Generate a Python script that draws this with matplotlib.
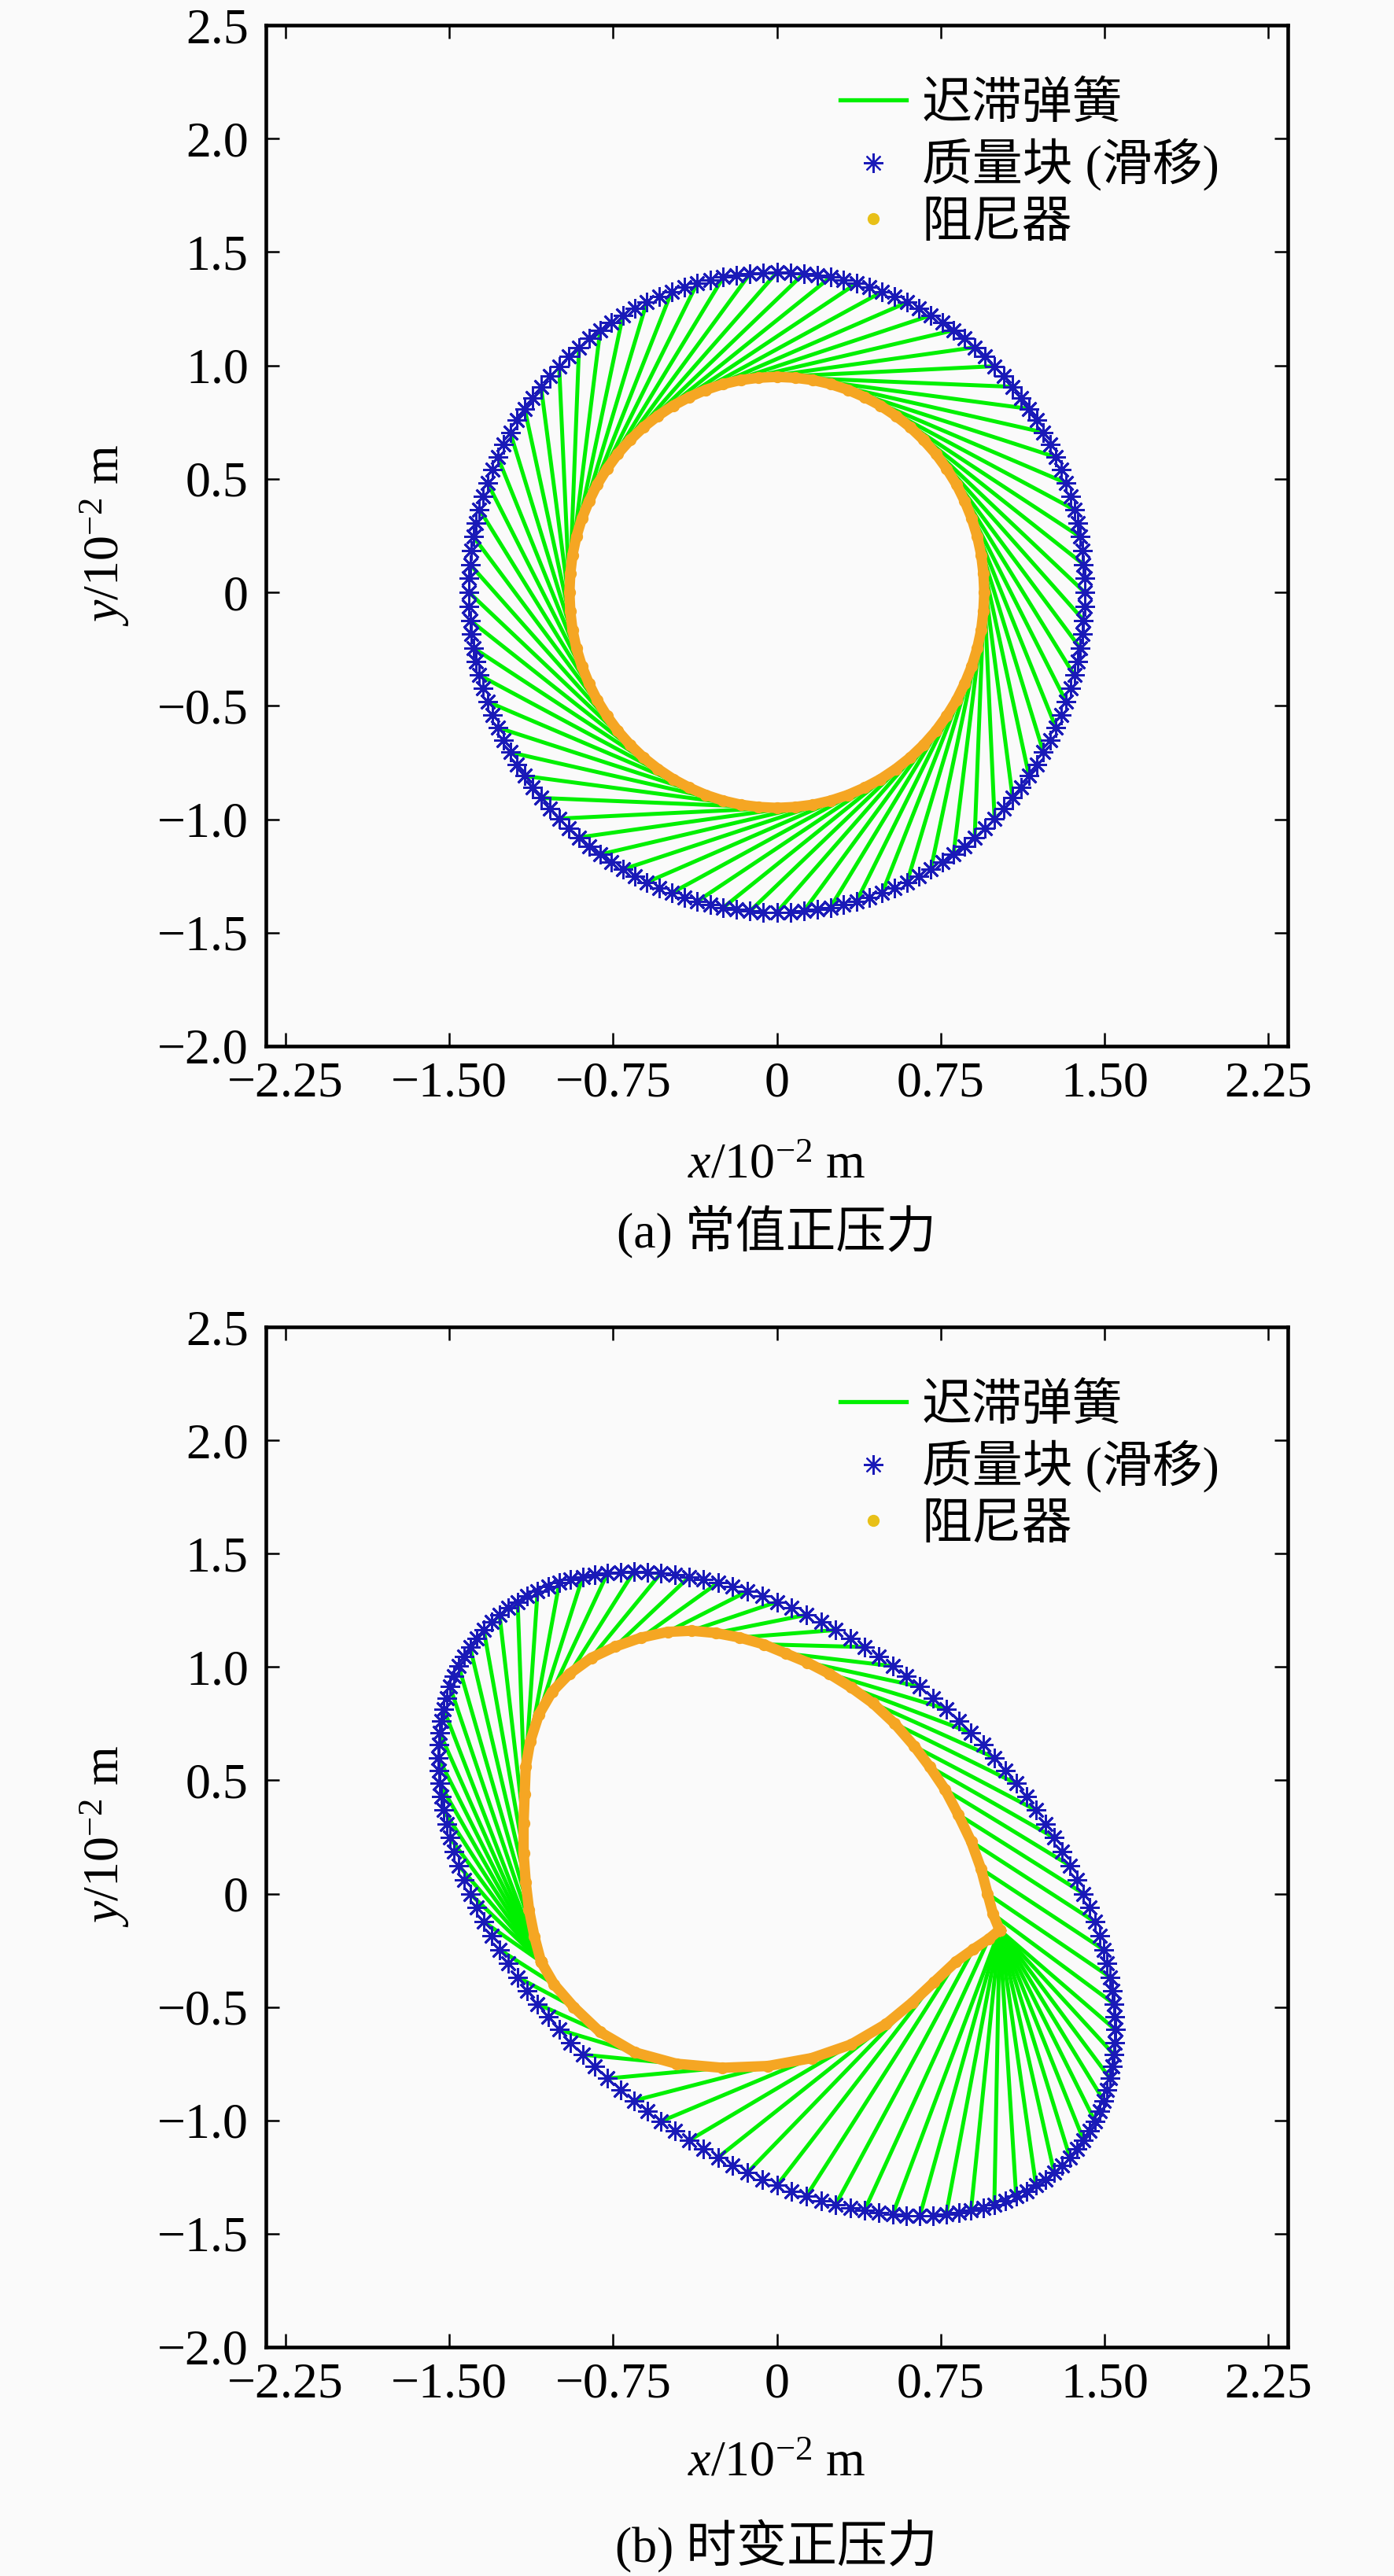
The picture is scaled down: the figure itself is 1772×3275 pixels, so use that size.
import numpy as np
import matplotlib
matplotlib.use('Agg')
import matplotlib.pyplot as plt
from matplotlib.lines import Line2D

plt.rcParams['font.family'] = ['Liberation Serif', 'Noto Sans CJK SC', 'DejaVu Sans']
plt.rcParams['mathtext.fontset'] = 'custom'
plt.rcParams['mathtext.rm'] = 'Liberation Serif'
plt.rcParams['mathtext.it'] = 'Liberation Serif:italic'
plt.rcParams['axes.unicode_minus'] = True

# ---------------- data ----------------
x_ticks = [-2.25, -1.5, -0.75, 0, 0.75, 1.5, 2.25]
x_tick_labels = ['\u22122.25', '\u22121.50', '\u22120.75', '0', '0.75', '1.50', '2.25']
y_ticks = [-2.0, -1.5, -1.0, -0.5, 0, 0.5, 1.0, 1.5, 2.0, 2.5]
y_tick_labels = ['\u22122.0', '\u22121.5', '\u22121.0', '\u22120.5', '0', '0.5', '1.0', '1.5', '2.0', '2.5']
legend_labels = ['迟滞弹簧', '质量块 (滑移)', '阻尼器']
captions = ['(a) 常值正压力', '(b) 时变正压力']

# (a) constant normal force: mass (slider) positions, 10^-2 m
mass_a_x = [1.410, 1.409, 1.405, 1.398, 1.389, 1.377, 1.362, 1.345, 1.325, 1.303, 1.278, 1.251, 1.221, 1.189, 1.155, 1.119, 1.080, 1.040, 0.997, 0.953, 0.906, 0.858, 0.809, 0.758, 0.705, 0.651, 0.596, 0.540, 0.482, 0.424, 0.365, 0.305, 0.245, 0.184, 0.123, 0.062, 0.000,
            -0.062, -0.123, -0.184, -0.245, -0.305, -0.365, -0.424, -0.482, -0.540, -0.596, -0.651, -0.705, -0.758, -0.809, -0.858, -0.906, -0.953, -0.997, -1.040, -1.080, -1.119, -1.155, -1.189, -1.221, -1.251, -1.278, -1.303, -1.325, -1.345, -1.362, -1.377, -1.389, -1.398, -1.405, -1.409, -1.410,
            -1.409, -1.405, -1.398, -1.389, -1.377, -1.362, -1.345, -1.325, -1.303, -1.278, -1.251, -1.221, -1.189, -1.155, -1.119, -1.080, -1.040, -0.997, -0.953, -0.906, -0.858, -0.809, -0.758, -0.705, -0.651, -0.596, -0.540, -0.482, -0.424, -0.365, -0.305, -0.245, -0.184, -0.123, -0.062, 0.000,
            0.062, 0.123, 0.184, 0.245, 0.305, 0.365, 0.424, 0.482, 0.540, 0.596, 0.651, 0.705, 0.758, 0.809, 0.858, 0.906, 0.953, 0.997, 1.040, 1.080, 1.119, 1.155, 1.189, 1.221, 1.251, 1.278, 1.303, 1.325, 1.345, 1.362, 1.377, 1.389, 1.398, 1.405, 1.409]
mass_a_y = [0.000, 0.062, 0.123, 0.184, 0.245, 0.305, 0.365, 0.424, 0.482, 0.540, 0.596, 0.651, 0.705, 0.758, 0.809, 0.858, 0.906, 0.953, 0.997, 1.040, 1.080, 1.119, 1.155, 1.189, 1.221, 1.251, 1.278, 1.303, 1.325, 1.345, 1.362, 1.377, 1.389, 1.398, 1.405, 1.409, 1.410,
            1.409, 1.405, 1.398, 1.389, 1.377, 1.362, 1.345, 1.325, 1.303, 1.278, 1.251, 1.221, 1.189, 1.155, 1.119, 1.080, 1.040, 0.997, 0.953, 0.906, 0.858, 0.809, 0.758, 0.705, 0.651, 0.596, 0.540, 0.482, 0.424, 0.365, 0.305, 0.245, 0.184, 0.123, 0.062, 0.000,
            -0.062, -0.123, -0.184, -0.245, -0.305, -0.365, -0.424, -0.482, -0.540, -0.596, -0.651, -0.705, -0.758, -0.809, -0.858, -0.906, -0.953, -0.997, -1.040, -1.080, -1.119, -1.155, -1.189, -1.221, -1.251, -1.278, -1.303, -1.325, -1.345, -1.362, -1.377, -1.389, -1.398, -1.405, -1.409, -1.410,
            -1.409, -1.405, -1.398, -1.389, -1.377, -1.362, -1.345, -1.325, -1.303, -1.278, -1.251, -1.221, -1.189, -1.155, -1.119, -1.080, -1.040, -0.997, -0.953, -0.906, -0.858, -0.809, -0.758, -0.705, -0.651, -0.596, -0.540, -0.482, -0.424, -0.365, -0.305, -0.245, -0.184, -0.123, -0.062]
# (a) damper positions at every second mass sample
damper_a_x = [0.672, 0.611, 0.545, 0.475, 0.401, 0.325, 0.246, 0.165, 0.083, 0.000,
              -0.083, -0.165, -0.246, -0.325, -0.401, -0.475, -0.545, -0.611, -0.672, -0.728, -0.778, -0.823, -0.861, -0.893, -0.918, -0.936, -0.946, -0.950,
              -0.946, -0.936, -0.918, -0.893, -0.861, -0.823, -0.778, -0.728, -0.672, -0.611, -0.545, -0.475, -0.401, -0.325, -0.246, -0.165, -0.083, 0.000,
              0.083, 0.165, 0.246, 0.325, 0.401, 0.475, 0.545, 0.611, 0.672, 0.728, 0.778, 0.823, 0.861, 0.893, 0.918, 0.936, 0.946, 0.950,
              0.946, 0.936, 0.918, 0.893, 0.861, 0.823, 0.778, 0.728]
damper_a_y = [0.672, 0.728, 0.778, 0.823, 0.861, 0.893, 0.918, 0.936, 0.946, 0.950,
              0.946, 0.936, 0.918, 0.893, 0.861, 0.823, 0.778, 0.728, 0.672, 0.611, 0.545, 0.475, 0.401, 0.325, 0.246, 0.165, 0.083, 0.000,
              -0.083, -0.165, -0.246, -0.325, -0.401, -0.475, -0.545, -0.611, -0.672, -0.728, -0.778, -0.823, -0.861, -0.893, -0.918, -0.936, -0.946, -0.950,
              -0.946, -0.936, -0.918, -0.893, -0.861, -0.823, -0.778, -0.728, -0.672, -0.611, -0.545, -0.475, -0.401, -0.325, -0.246, -0.165, -0.083, 0.000,
              0.083, 0.165, 0.246, 0.325, 0.401, 0.475, 0.545, 0.611]

# (b) time-varying normal force: mass (slider) positions
mass_b_x = [1.550, 1.549, 1.544, 1.537, 1.526, 1.513, 1.497, 1.478, 1.457, 1.432, 1.405, 1.375, 1.342, 1.307, 1.270, 1.230, 1.187, 1.143, 1.096, 1.047, 0.996, 0.944, 0.889, 0.833, 0.775, 0.716, 0.655, 0.593, 0.530, 0.466, 0.401, 0.336, 0.269, 0.202, 0.135, 0.068, 0.000,
            -0.068, -0.135, -0.202, -0.269, -0.336, -0.401, -0.466, -0.530, -0.593, -0.655, -0.716, -0.775, -0.833, -0.889, -0.944, -0.996, -1.047, -1.096, -1.143, -1.187, -1.230, -1.270, -1.307, -1.342, -1.375, -1.405, -1.432, -1.457, -1.478, -1.497, -1.513, -1.526, -1.537, -1.544, -1.549, -1.550,
            -1.549, -1.544, -1.537, -1.526, -1.513, -1.497, -1.478, -1.457, -1.432, -1.405, -1.375, -1.342, -1.307, -1.270, -1.230, -1.187, -1.143, -1.096, -1.047, -0.996, -0.944, -0.889, -0.833, -0.775, -0.716, -0.655, -0.593, -0.530, -0.466, -0.401, -0.336, -0.269, -0.202, -0.135, -0.068, 0.000,
            0.068, 0.135, 0.202, 0.269, 0.336, 0.401, 0.466, 0.530, 0.593, 0.655, 0.716, 0.775, 0.833, 0.889, 0.944, 0.996, 1.047, 1.096, 1.143, 1.187, 1.230, 1.270, 1.307, 1.342, 1.375, 1.405, 1.432, 1.457, 1.478, 1.497, 1.513, 1.526, 1.537, 1.544, 1.549]
mass_b_y = [-0.600, -0.656, -0.710, -0.763, -0.815, -0.864, -0.913, -0.959, -1.004, -1.047, -1.088, -1.127, -1.163, -1.198, -1.230, -1.260, -1.287, -1.312, -1.334, -1.354, -1.372, -1.386, -1.398, -1.408, -1.415, -1.419, -1.420,
            -1.419, -1.415, -1.408, -1.398, -1.386, -1.372, -1.354, -1.334, -1.312, -1.287, -1.260, -1.230, -1.198, -1.163, -1.127, -1.088, -1.047, -1.004, -0.959, -0.913, -0.864, -0.815, -0.763, -0.710, -0.656, -0.600, -0.543, -0.486, -0.427, -0.368, -0.307, -0.247, -0.185, -0.124, -0.062, 0.000,
            0.062, 0.124, 0.185, 0.247, 0.307, 0.368, 0.427, 0.486, 0.543, 0.600, 0.656, 0.710, 0.763, 0.815, 0.864, 0.913, 0.959, 1.004, 1.047, 1.088, 1.127, 1.163, 1.198, 1.230, 1.260, 1.287, 1.312, 1.334, 1.354, 1.372, 1.386, 1.398, 1.408, 1.415, 1.419,
            1.420, 1.419, 1.415, 1.408, 1.398, 1.386, 1.372, 1.354, 1.334, 1.312, 1.287, 1.260, 1.230, 1.198, 1.163, 1.127, 1.088, 1.047, 1.004, 0.959, 0.913, 0.864, 0.815, 0.763, 0.710, 0.656, 0.600, 0.543, 0.486, 0.427, 0.368, 0.307, 0.247, 0.185, 0.124, 0.062, 0.000,
            -0.062, -0.124, -0.185, -0.247, -0.307, -0.368, -0.427, -0.486, -0.543]
# (b) damper positions at every second mass sample (stick at right cusp and at lower left)
damper_b_x = [1.02, 1.02, 1.02, 1.02, 1.02, 1.02, 1.02, 1.02, 1.02, 1.02, 1.02, 1.02, 1.02, 1.02, 1.02,
              0.97, 0.90, 0.82, 0.72, 0.62, 0.50, 0.34, 0.16, -0.04, -0.25, -0.46, -0.65, -0.81, -0.93, -1.02,
              -1.08, -1.08, -1.08, -1.08, -1.08, -1.08, -1.08, -1.08, -1.08,
              -1.11, -1.135, -1.15, -1.16, -1.16, -1.155, -1.15, -1.13, -1.09, -1.03, -0.95, -0.85, -0.74, -0.62,
              -0.50, -0.39, -0.28, -0.17, -0.06, 0.04, 0.14,
              0.24, 0.34, 0.44, 0.54, 0.63, 0.70, 0.77, 0.83, 0.89, 0.935, 0.965, 0.99]
damper_b_y = [-0.16, -0.16, -0.16, -0.16, -0.16, -0.16, -0.16, -0.16, -0.16, -0.16, -0.16, -0.16, -0.16, -0.16, -0.16,
              -0.20, -0.245, -0.30, -0.39, -0.48, -0.575, -0.665, -0.725, -0.76, -0.768, -0.75, -0.70, -0.61, -0.50, -0.40,
              -0.30, -0.30, -0.30, -0.30, -0.30, -0.30, -0.30, -0.30, -0.30,
              -0.19, -0.07, 0.05, 0.18, 0.31, 0.44, 0.56, 0.67, 0.79, 0.89, 0.97, 1.04, 1.09, 1.13,
              1.155, 1.16, 1.15, 1.13, 1.10, 1.06, 1.02,
              0.97, 0.91, 0.84, 0.75, 0.65, 0.56, 0.46, 0.35, 0.23, 0.11, 0.00, -0.09]

# ---------------- style ----------------
BG = '#fafafa'
GREEN = '#00f000'
BLUE = '#1a1ab8'
ORANGE = '#f5a623'
LEG_DOT = '#e8c018'
FS = 46
W, H = 1772, 3275

fig = plt.figure(figsize=(W / 100, H / 100), dpi=100, facecolor=BG)

panels = [
    dict(rect=[338 / W, 1 - 1330 / H, 1299 / W, 1298 / H], mx=mass_a_x, my=mass_a_y,
         dx=damper_a_x, dy=damper_a_y, xl=1482, cap=1567, yl=681),
    dict(rect=[338 / W, 1 - 2984 / H, 1299 / W, 1297 / H], mx=mass_b_x, my=mass_b_y,
         dx=damper_b_x, dy=damper_b_y, xl=3133, cap=3237, yl=2335),
]

star = (8, 2, 0)
for p, cap in zip(panels, captions):
    ax = fig.add_axes(p['rect'])
    ax.set_facecolor(BG)
    mx, my, dx, dy = p['mx'], p['my'], p['dx'], p['dy']
    # springs: damper sample k -> mass sample 2k
    for k in range(len(dx)):
        ax.plot([dx[k], mx[2 * k]], [dy[k], my[2 * k]], color=GREEN, lw=3.6,
                solid_capstyle='butt', zorder=2)
    # damper trajectory
    ax.plot(list(dx) + [dx[0]], list(dy) + [dy[0]], color=ORANGE, lw=9.5,
            solid_joinstyle='round', zorder=3)
    ax.plot(dx, dy, ls='none', marker='o', ms=10, color=ORANGE, zorder=3)
    # mass trajectory
    ax.plot(mx, my, ls='none', marker=star, ms=18, mew=2.0, color=BLUE, zorder=4)

    ax.set_xlim(-2.34, 2.34)
    ax.set_ylim(-2.0, 2.5)
    ax.set_xticks(x_ticks)
    ax.set_xticklabels(x_tick_labels)
    ax.set_yticks(y_ticks)
    ax.set_yticklabels(y_tick_labels)
    ax.tick_params(direction='in', length=12, width=1.8, top=True, right=True,
                   labelsize=FS, color='black')
    ax.tick_params(axis='x', pad=14)
    ax.tick_params(axis='y', pad=16)
    for s in ax.spines.values():
        s.set_linewidth(3.3)

    handles = [
        Line2D([], [], color=GREEN, lw=3.8),
        Line2D([], [], ls='none', marker=star, ms=18, mew=1.6, color=BLUE),
        Line2D([], [], ls='none', marker='o', ms=10, color=LEG_DOT),
    ]
    ax.legend(handles, legend_labels, loc='upper left',
              bbox_to_anchor=((1068 - 338) / 1299, (1330 - 104) / 1298),
              frameon=False, fontsize=FS, handlelength=1.31, handletextpad=0.31,
              labelspacing=0.2, borderpad=0, borderaxespad=0)

    fig.text(987 / W, 1 - p['xl'] / H, r'$\mathit{x}\mathrm{/10^{-2}\ m}$',
             ha='center', va='center', fontsize=FS)
    fig.text(987 / W, 1 - p['cap'] / H, cap, ha='center', va='center', fontsize=FS)
    fig.text(133 / W, 1 - p['yl'] / H, r'$\mathit{y}\mathrm{/10^{-2}\ m}$',
             ha='center', va='center', rotation=90, fontsize=FS)

fig.savefig('out.png', dpi=100, facecolor=BG)
